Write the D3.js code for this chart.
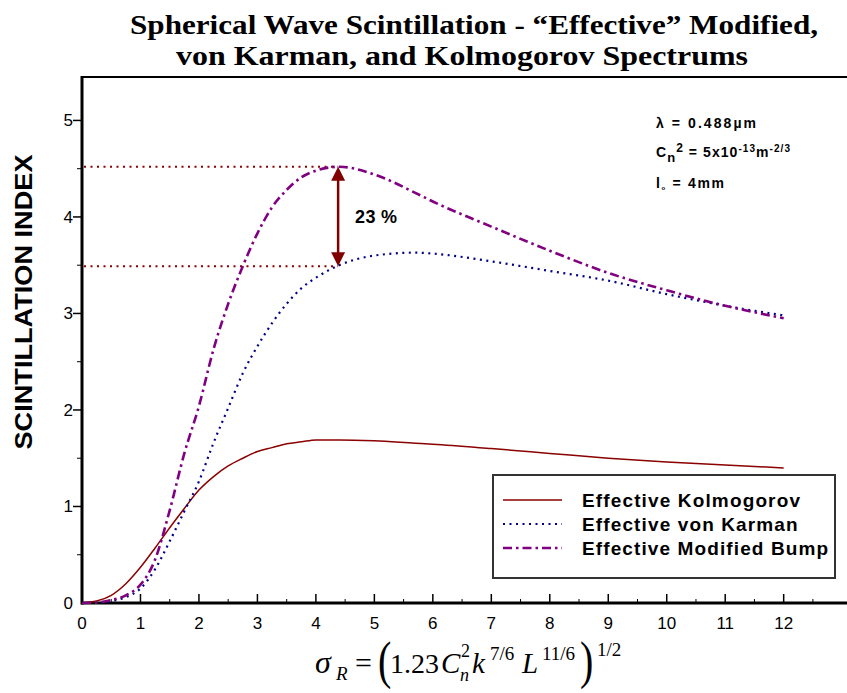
<!DOCTYPE html>
<html>
<head>
<meta charset="utf-8">
<script src="https://cdn.jsdelivr.net/npm/d3@7"></script>
<style>
  body { margin: 0; background: #fff; }
  svg { display: block; }
</style>
</head>
<body>
<div id="chart"></div>
<script>
// values
var sigma     = [0, 0.25, 0.5, 0.75, 1, 1.25, 1.5, 1.75, 2, 2.25, 2.5, 2.75, 3, 3.25, 3.5, 3.75, 4, 4.4, 5, 5.7, 6, 7, 8, 9, 10, 11, 12];
var kolmog    = [0, 0.02, 0.08, 0.2, 0.37, 0.57, 0.78, 0.98, 1.17, 1.31, 1.42, 1.5, 1.57, 1.61, 1.65, 1.67, 1.69, 1.69, 1.68, 1.655, 1.645, 1.6, 1.55, 1.5, 1.46, 1.43, 1.4];
var vonKarman = [0, 0.003, 0.02, 0.06, 0.15, 0.35, 0.64, 0.95, 1.26, 1.66, 2.02, 2.38, 2.66, 2.9, 3.1, 3.26, 3.37, 3.5, 3.6, 3.63, 3.62, 3.54, 3.44, 3.34, 3.2, 3.08, 2.98];
var modBump   = [0, 0.005, 0.03, 0.08, 0.19, 0.45, 0.96, 1.55, 2.04, 2.63, 3.1, 3.49, 3.83, 4.1, 4.28, 4.41, 4.48, 4.52, 4.44, 4.25, 4.16, 3.9, 3.65, 3.42, 3.24, 3.08, 2.95];

var seriesNames = ["Effective Kolmogorov", "Effective von Karman", "Effective Modified Bump"];
var xTicks = [0, 1, 2, 3, 4, 5, 6, 7, 8, 9, 10, 11, 12];
var yTicks = [0, 1, 2, 3, 4, 5];
var peakX = 4.38, peakHigh = 4.52, peakLow = 3.49;

var W = 847, H = 693;
var margin = {top: 77, right: 0, bottom: 90, left: 82};

var svg = d3.select("#chart").append("svg")
    .attr("width", W)
    .attr("height", H);

var x = d3.scaleLinear().domain([0, 13.1]).range([margin.left, 848]);
var y = d3.scaleLinear().domain([0, 5.45]).range([603, margin.top]);

var series = [
  {name: seriesNames[0], values: kolmog,    color: "#8b0000", width: 1.5, dash: null},
  {name: seriesNames[1], values: vonKarman, color: "#00008b", width: 2.2, dash: "2,4.5"},
  {name: seriesNames[2], values: modBump,   color: "#800080", width: 2.6, dash: "9,4,2.5,4"}
];

var serif = "'Liberation Serif', 'Times New Roman', serif";
var sans = "'Liberation Sans', Arial, sans-serif";

// title (one text, two lines)
var title = svg.append("text")
    .style("font-family", serif).style("font-weight", "bold").style("font-size", "27px");
title.append("tspan")
    .attr("x", 130).attr("y", 34)
    .attr("textLength", 688).attr("lengthAdjust", "spacingAndGlyphs")
    .text("Spherical Wave Scintillation - \u201cEffective\u201d Modified,");
title.append("tspan")
    .attr("x", 176).attr("y", 65)
    .attr("textLength", 572).attr("lengthAdjust", "spacingAndGlyphs")
    .text("von Karman, and Kolmogorov Spectrums");

// frame top
svg.append("line")
    .attr("x1", margin.left).attr("x2", W)
    .attr("y1", margin.top).attr("y2", margin.top)
    .attr("stroke", "#000").attr("stroke-width", 2);

// axes
var xMinor = d3.range(0.5, 13.1, 1);
svg.append("g").selectAll("line").data(xTicks.slice(1)).enter().append("line")
    .attr("x1", d => x(d)).attr("x2", d => x(d))
    .attr("y1", y(0)).attr("y2", y(0) - 9)
    .attr("stroke", "#000").attr("stroke-width", 1.5);
svg.append("g").selectAll("line").data(xMinor).enter().append("line")
    .attr("x1", d => x(d)).attr("x2", d => x(d))
    .attr("y1", y(0)).attr("y2", y(0) - 4)
    .attr("stroke", "#000").attr("stroke-width", 1);
svg.append("line")
    .attr("x1", margin.left - 1).attr("x2", W)
    .attr("y1", y(0)).attr("y2", y(0))
    .attr("stroke", "#000").attr("stroke-width", 3);

svg.append("g").selectAll("text").data(xTicks).enter().append("text")
    .attr("x", d => x(d)).attr("y", 629)
    .attr("text-anchor", "middle")
    .style("font-family", sans)
    .style("font-size", "17px")
    .text(d => d);

var yMinor = d3.range(0.5, 5.45, 1);
svg.append("g").selectAll("line").data(yTicks.slice(1)).enter().append("line")
    .attr("x1", x(0)).attr("x2", x(0) - 9)
    .attr("y1", d => y(d)).attr("y2", d => y(d))
    .attr("stroke", "#000").attr("stroke-width", 1.5);
svg.append("g").selectAll("line").data(yMinor).enter().append("line")
    .attr("x1", x(0)).attr("x2", x(0) - 5)
    .attr("y1", d => y(d)).attr("y2", d => y(d))
    .attr("stroke", "#000").attr("stroke-width", 1);
svg.append("line")
    .attr("x1", x(0)).attr("x2", x(0))
    .attr("y1", margin.top - 1).attr("y2", y(0) + 1.5)
    .attr("stroke", "#000").attr("stroke-width", 3);

svg.append("g").selectAll("text").data(yTicks).enter().append("text")
    .attr("x", 73).attr("y", d => y(d) + 6)
    .attr("text-anchor", "end")
    .style("font-family", sans)
    .style("font-size", "17px")
    .text(d => d);

svg.append("text")
    .attr("transform", "translate(32,302) rotate(-90)")
    .attr("text-anchor", "middle")
    .attr("textLength", 295).attr("lengthAdjust", "spacingAndGlyphs")
    .style("font-family", sans)
    .style("font-weight", "bold")
    .style("font-size", "24px")
    .text("SCINTILLATION INDEX");

// reference lines
svg.append("g").selectAll("line").data([peakHigh, peakLow]).enter().append("line")
    .attr("x1", x(0) + 2).attr("x2", x(peakX))
    .attr("y1", d => y(d)).attr("y2", d => y(d))
    .attr("stroke", "#8b0000").attr("stroke-width", 2)
    .attr("stroke-dasharray", "2,4.5");

// curves
var line = d3.line()
    .x((d, i) => x(sigma[i]))
    .y(d => y(d))
    .curve(d3.curveMonotoneX);

svg.append("g").selectAll("path").data(series).enter().append("path")
    .attr("d", d => line(d.values))
    .attr("fill", "none")
    .attr("stroke", d => d.color)
    .attr("stroke-width", d => d.width)
    .attr("stroke-dasharray", d => d.dash);

// double arrow
var ax = x(peakX), yTop = y(peakHigh), yBot = y(peakLow);
svg.append("line")
    .attr("x1", ax).attr("x2", ax)
    .attr("y1", yTop + 12).attr("y2", yBot - 12)
    .attr("stroke", "#800000").attr("stroke-width", 2.5);
svg.append("path")
    .attr("d", "M" + ax + "," + yTop + "L" + (ax - 7) + "," + (yTop + 14) + "L" + (ax + 7) + "," + (yTop + 14) + "Z")
    .attr("fill", "#800000");
svg.append("path")
    .attr("d", "M" + ax + "," + yBot + "L" + (ax - 7) + "," + (yBot - 14) + "L" + (ax + 7) + "," + (yBot - 14) + "Z")
    .attr("fill", "#800000");

svg.append("text")
    .attr("x", ax + 17).attr("y", (yTop + yBot) / 2 + 7)
    .attr("textLength", 42)
    .style("font-family", sans)
    .style("font-weight", "bold")
    .style("font-size", "18px")
    .text("23 %");

// parameters
function param(yPos, len) {
  return svg.append("text").attr("x", 656).attr("y", yPos)
    .attr("textLength", len)
    .style("font-family", sans)
    .style("font-weight", "bold")
    .style("font-size", "14px");
}
param(128, 100).text("\u03bb = 0.488\u00b5m");
var cn = param(157, 134);
cn.append("tspan").text("C");
cn.append("tspan").attr("dy", 5).style("font-size", "13px").text("n");
cn.append("tspan").attr("dy", -10).style("font-size", "12px").text("2");
cn.append("tspan").attr("dy", 5).text(" = 5x10");
cn.append("tspan").attr("dy", -5).style("font-size", "10px").text("-13");
cn.append("tspan").attr("dy", 5).text("m");
cn.append("tspan").attr("dy", -5).style("font-size", "10px").text("-2/3");
var l0 = param(188, 68);
l0.append("tspan").text("l");
l0.append("tspan").attr("dy", 2).style("font-size", "6px").text("o");
l0.append("tspan").attr("dy", -2).text(" = 4mm");

// legend
var lg = svg.append("g");
lg.append("rect")
    .attr("x", 493).attr("y", 475).attr("width", 342).attr("height", 103)
    .attr("fill", "#fff").attr("stroke", "#333").attr("stroke-width", 2);
var rows = lg.selectAll("g.row").data(series).enter().append("g")
    .attr("class", "row")
    .attr("transform", (d, i) => "translate(0," + (500 + i * 24) + ")");
rows.append("line")
    .attr("x1", 503).attr("x2", 562)
    .attr("stroke", d => d.color)
    .attr("stroke-width", d => d.width)
    .attr("stroke-dasharray", d => d.dash);
rows.append("text")
    .attr("x", 582).attr("y", 7)
    .style("font-family", sans)
    .style("font-weight", "bold")
    .style("font-size", "19px")
    .text(d => d.name)
    .attr("textLength", function() { return this.getComputedTextLength() * 1.11; });

// x axis formula
var fs = svg.append("g")
    .style("font-family", serif);
function piece(txt, xp, yp, size, italic) {
  return fs.append("text").attr("x", xp).attr("y", yp)
    .style("font-size", size + "px")
    .style("font-style", italic ? "italic" : "normal")
    .text(txt);
}
piece("\u03c3", 315, 673, 32, true);
piece("R", 336, 680, 19, true);
piece("=", 355, 673, 30, false);
fs.append("text").attr("transform", "translate(378,678) scale(1,1.3)")
    .style("font-size", "40px").text("(");
piece("1.23", 390, 673, 28, false);
piece("C", 441, 673, 29, true);
piece("n", 460, 681, 18, true);
piece("2", 461, 657, 18, false);
piece("k", 472, 673, 29, true);
piece("7/6", 490, 660, 19, false);
piece("L", 522, 673, 29, true);
piece("11/6", 542, 660, 19, false);
fs.append("text").attr("transform", "translate(580,678) scale(1,1.3)")
    .style("font-size", "40px").text(")");
piece("1/2", 597, 656, 19, false);
</script>
</body>
</html>
